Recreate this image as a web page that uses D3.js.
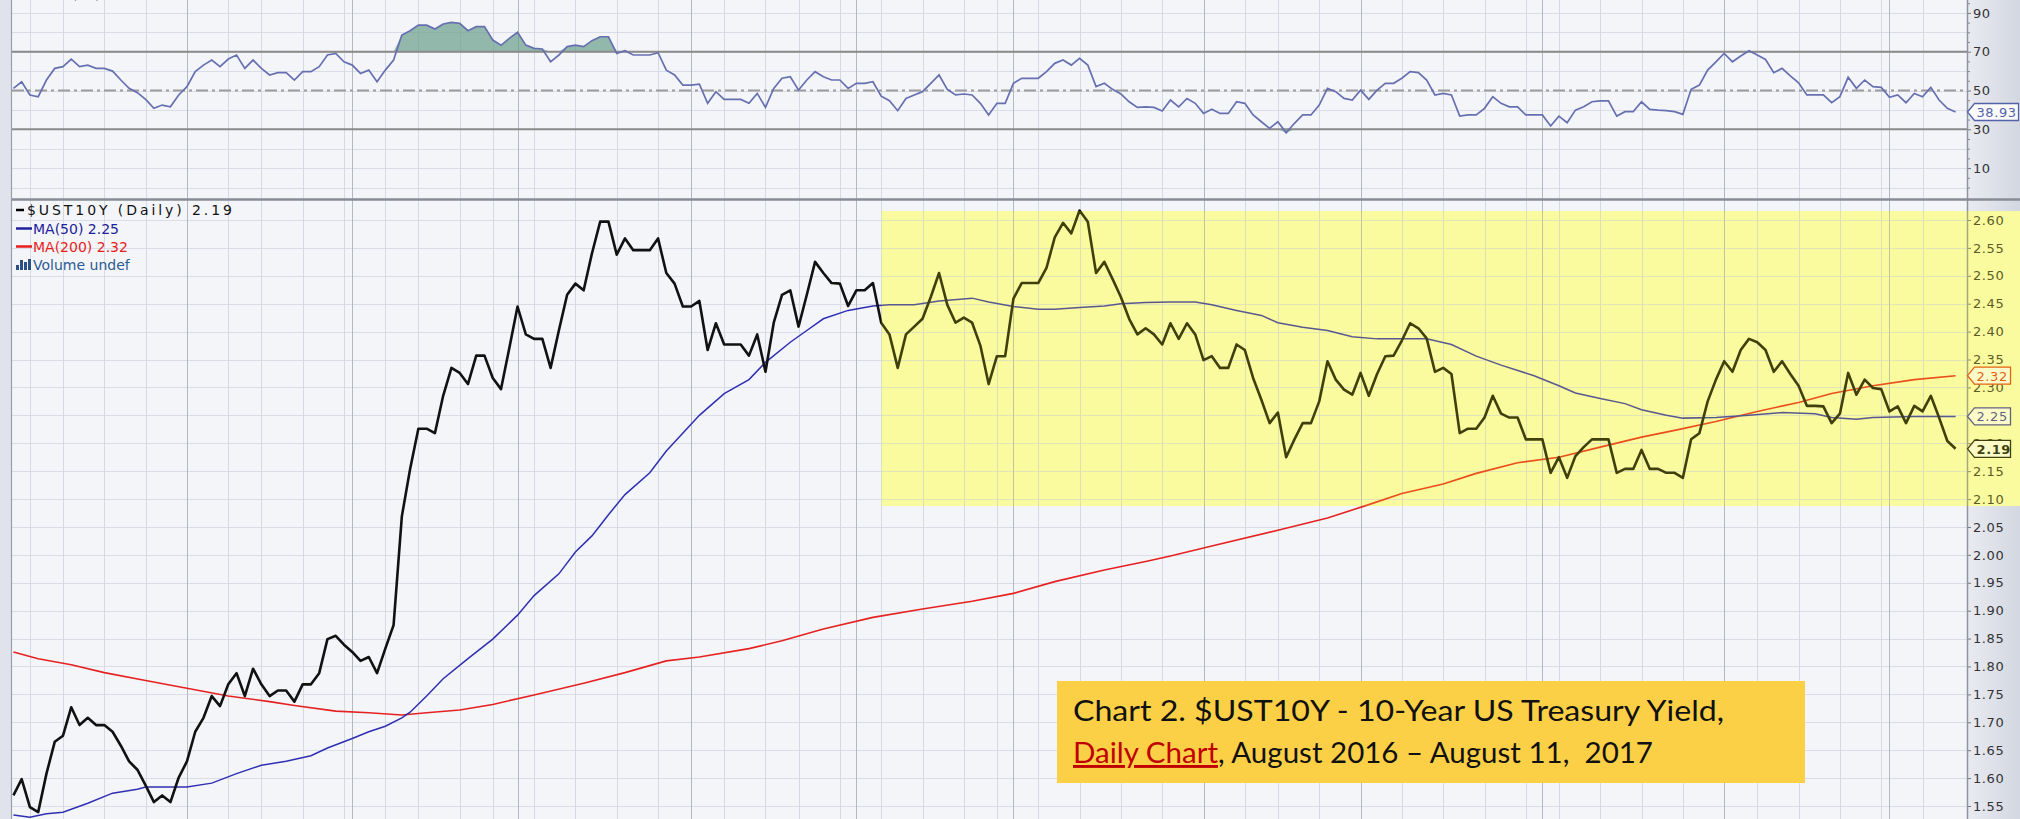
<!DOCTYPE html>
<html>
<head>
<meta charset="utf-8">
<script src="https://cdn.jsdelivr.net/npm/d3@7"></script>
<style>
  html, body { margin: 0; padding: 0; background: #f4f5f9; }
  svg { display: block; }
</style>
</head>
<body>
<svg id="chart" width="2020" height="819"></svg>
<script>
// daily closes, $UST10Y, trading days from Sep 1 2016 to Aug 11 2017 (index = trading day)
const ust10y = [
  1.569, 1.598, 1.548, 1.539, 1.608, 1.665, 1.676, 1.727, 1.695, 1.708,
  1.695, 1.695, 1.683, 1.658, 1.630, 1.615, 1.587, 1.557, 1.569, 1.557,
  1.601, 1.630, 1.683, 1.708, 1.747, 1.729, 1.768, 1.788, 1.747, 1.796,
  1.768, 1.747, 1.757, 1.757, 1.737, 1.768, 1.768, 1.788, 1.849, 1.855,
  1.839, 1.826, 1.810, 1.817, 1.788, 1.832, 1.874, 2.069, 2.154, 2.226,
  2.226, 2.218, 2.285, 2.335, 2.326, 2.306, 2.357, 2.357, 2.317, 2.297,
  2.370, 2.445, 2.395, 2.387, 2.387, 2.335, 2.402, 2.466, 2.486, 2.474,
  2.540, 2.597, 2.597, 2.538, 2.567, 2.546, 2.546, 2.546, 2.567, 2.505,
  2.486, 2.445, 2.445, 2.455,
  2.367, 2.415, 2.377, 2.377, 2.377, 2.357, 2.395, 2.328, 2.416, 2.466,
  2.474, 2.409, 2.466, 2.525, 2.505, 2.487, 2.486, 2.446, 2.474, 2.474,
  2.487, 2.416, 2.395, 2.335, 2.395, 2.409, 2.423, 2.462, 2.505, 2.448,
  2.416, 2.425, 2.416, 2.375, 2.306, 2.356, 2.356, 2.459, 2.487, 2.487,
  2.487, 2.514, 2.569, 2.595, 2.576, 2.617, 2.597, 2.505, 2.525, 2.494,
  2.462, 2.423, 2.395, 2.406, 2.395, 2.377, 2.415, 2.387, 2.415, 2.395,
  2.349, 2.356, 2.335, 2.335, 2.377, 2.367, 2.317, 2.278, 2.236, 2.255,
  2.175, 2.207, 2.236, 2.236, 2.275, 2.347, 2.314, 2.296, 2.287, 2.326,
  2.285, 2.324, 2.356, 2.357, 2.384,
  2.415, 2.406, 2.388, 2.328, 2.335, 2.324, 2.218, 2.226, 2.226, 2.246,
  2.285, 2.253, 2.246, 2.246, 2.207, 2.207, 2.207, 2.147, 2.175, 2.138,
  2.177, 2.193, 2.207, 2.207, 2.207, 2.147, 2.154, 2.154, 2.188, 2.154,
  2.154, 2.147, 2.147, 2.138, 2.207, 2.218, 2.275, 2.314, 2.347, 2.328,
  2.367, 2.387, 2.381, 2.367, 2.328, 2.347, 2.324, 2.303, 2.267, 2.267,
  2.266, 2.236, 2.253, 2.326, 2.287, 2.314, 2.299, 2.297, 2.257, 2.266,
  2.236, 2.267, 2.257, 2.285, 2.246, 2.204, 2.19
];

// RSI(14), same days
const rsi14 = [
  51.1, 54.5, 47.7, 46.8, 55.4, 61.4, 62.3, 66.2, 62.3, 63.1,
  61.4, 61.4, 60.0, 55.4, 51.1, 48.9, 45.4, 40.8, 42.5, 41.6,
  47.7, 52.0, 59.7, 63.1, 65.7, 62.3, 66.2, 68.3, 61.4, 65.7,
  61.4, 58.0, 59.2, 59.2, 55.4, 59.7, 59.7, 62.3, 68.3, 69.1,
  64.8, 63.1, 58.8, 60.5, 54.5, 60.5, 65.7, 78.6, 80.8, 83.7,
  83.7, 81.7, 84.3, 85.1, 84.6, 80.8, 82.9, 82.9, 76.0, 73.3,
  76.9, 80.0, 73.4, 71.7, 71.4, 64.8, 68.3, 72.6, 73.4, 72.6,
  75.7, 77.7, 77.7, 69.1, 70.5, 68.3, 68.3, 68.3, 69.5, 60.5,
  58.0, 52.8, 52.8, 53.3,
  43.4, 49.4, 45.4, 45.4, 45.4, 43.4, 48.5, 41.3, 51.1, 56.3,
  57.1, 50.2, 55.4, 59.7, 57.1, 55.4, 55.4, 51.1, 53.7, 53.7,
  54.5, 47.1, 44.7, 39.6, 45.9, 47.7, 49.4, 53.7, 58.0, 50.6,
  47.7, 48.2, 47.7, 43.4, 37.4, 43.4, 43.4, 53.7, 56.3, 56.3,
  56.3, 59.7, 64.0, 65.7, 63.1, 66.6, 63.1, 52.0, 53.7, 50.6,
  48.2, 44.2, 41.3, 41.6, 41.3, 39.4, 45.1, 41.6, 45.9, 43.4,
  38.2, 40.3, 38.2, 38.2, 44.2, 43.4, 37.4, 33.9, 30.5, 33.9,
  28.2, 33.1, 37.4, 37.4, 42.5, 51.1, 49.4, 45.9, 45.1, 50.2,
  45.4, 50.2, 53.7, 53.7, 56.3,
  59.7, 59.2, 55.4, 47.7, 48.5, 47.7, 36.8, 37.4, 37.4, 40.8,
  46.8, 43.4, 41.6, 41.6, 37.4, 37.4, 37.4, 31.7, 36.8, 33.4,
  39.9, 41.6, 44.2, 44.7, 44.7, 36.8, 39.1, 39.1, 44.2, 40.3,
  39.9, 39.6, 39.1, 37.7, 50.6, 52.8, 60.5, 64.8, 69.1, 64.8,
  67.8, 70.5, 68.3, 66.0, 59.2, 61.4, 57.5, 54.0, 47.7, 47.7,
  47.7, 43.7, 46.8, 56.8, 51.1, 55.4, 52.0, 51.6, 46.5, 47.7,
  43.7, 48.5, 46.8, 51.6, 45.1, 40.8, 38.93
];

// moving averages, read at these trading days
const ma50Days = [0, 2, 4, 6, 9, 12, 15, 16, 21, 24, 27, 30, 33, 36, 38, 41, 43, 45, 47, 48,
  50, 52, 55, 58, 61, 63, 66, 68, 70, 72, 74, 77, 79, 83, 86, 89, 91, 94, 96, 98,
  101, 104, 106, 109, 112, 116, 118, 121, 124, 126, 129, 132, 134, 137, 140, 143, 145, 148, 151, 153,
  156, 159, 162, 165, 168, 171, 174, 177, 180, 184, 187, 189, 192, 195, 197, 200, 202, 206, 210, 214,
  218, 220, 223, 225, 230, 235];
const ma50 = [1.534, 1.530, 1.536, 1.539, 1.555, 1.573, 1.580, 1.584, 1.584, 1.591, 1.608, 1.623, 1.630, 1.640, 1.654, 1.671, 1.683, 1.693, 1.708, 1.718,
  1.747, 1.778, 1.814, 1.849, 1.892, 1.927, 1.966, 2.005, 2.034, 2.072, 2.108, 2.147, 2.186, 2.250, 2.289, 2.314, 2.345, 2.381, 2.402, 2.423,
  2.438, 2.446, 2.448, 2.448, 2.455, 2.460, 2.453, 2.445, 2.440, 2.440, 2.443, 2.446, 2.450, 2.452, 2.453, 2.453, 2.448, 2.438, 2.429, 2.416,
  2.408, 2.402, 2.391, 2.387, 2.387, 2.387, 2.377, 2.356, 2.340, 2.321, 2.303, 2.290, 2.280, 2.271, 2.260, 2.250, 2.245, 2.246, 2.250, 2.255,
  2.253, 2.246, 2.243, 2.246, 2.248, 2.248];

const ma200Days = [0, 3, 7, 11, 16, 21, 26, 31, 34, 39, 43, 47, 50, 54, 58, 63, 69, 74, 79, 83,
  89, 93, 98, 104, 110, 116, 121, 126, 132, 137, 140, 145, 153, 159, 164, 168, 173, 177, 182, 187,
  192, 197, 201, 206, 211, 216, 220, 225, 230, 235];
const ma200 = [1.826, 1.814, 1.803, 1.789, 1.775, 1.761, 1.747, 1.737, 1.730, 1.720, 1.717, 1.713, 1.717, 1.722, 1.732, 1.749, 1.770, 1.789, 1.810, 1.817,
  1.832, 1.846, 1.867, 1.888, 1.903, 1.917, 1.931, 1.952, 1.973, 1.988, 1.998, 2.016, 2.044, 2.066, 2.090, 2.110, 2.127, 2.146, 2.165, 2.175,
  2.193, 2.211, 2.223, 2.239, 2.257, 2.273, 2.289, 2.303, 2.314, 2.321];

// grid: first trading day of each week / month
const weekLines = [2, 6, 11, 16, 26, 30, 35, 40, 45, 49, 54, 58, 63, 68, 73, 78, 86, 91, 95, 100,
  105, 110, 115, 119, 124, 129, 134, 139, 149, 153, 158, 168, 173, 178, 183, 187, 192, 197, 202,
  211, 216, 221, 226, 231];
const monthLines = [21, 41, 61, 82, 102, 121, 144, 163, 185, 207, 227];

const priceTicks = [1.55, 1.60, 1.65, 1.70, 1.75, 1.80, 1.85, 1.90, 1.95, 2.00, 2.05,
  2.10, 2.15, 2.20, 2.25, 2.30, 2.35, 2.40, 2.45, 2.50, 2.55, 2.60];
const rsiTicks = [10, 30, 50, 70, 90];
const rsiMinor = [0, 5, 15, 20, 25, 35, 40, 45, 55, 60, 65, 75, 80, 85, 95];
const rsiGrid = [0, 10, 20, 30, 40, 50, 60, 70, 80, 90];

// highlighted range (yellow) : from trading day 105, 2.0875 to 2.616
const zoneStart = 105, zoneLo = 2.0875, zoneHi = 2.616;

const svg = d3.select("#chart");
const W = 2020, H = 819;
const axisX = 1967;   // right price axis
const leftX = 12;

const x = d3.scaleLinear().domain([0, ust10y.length - 1]).range([13.4, 1955.6]);
const y = d3.scaleLinear().domain([1.55, 2.60]).range([806, 220]);
const yR = d3.scaleLinear().domain([30, 70]).range([129.3, 51.7]);

const defs = svg.append("defs");
const grad = defs.append("linearGradient").attr("id", "axisbg").attr("x1", 0).attr("x2", 1);
grad.append("stop").attr("offset", 0).attr("stop-color", "#e9ebf1");
grad.append("stop").attr("offset", 1).attr("stop-color", "#d3d7e1");

// fond
svg.append("rect").attr("width", W).attr("height", H).attr("fill", "#f4f5f9");
svg.append("rect").attr("x", axisX).attr("width", W - axisX).attr("height", H).attr("fill", "url(#axisbg)");

// zone jaune (fond, sous la grille)
const zone = {
  x: x(zoneStart), y: y(zoneHi),
  w: W - x(zoneStart), h: y(zoneLo) - y(zoneHi)
};
svg.append("rect")
  .attr("x", zone.x).attr("y", zone.y).attr("width", zone.w).attr("height", zone.h)
  .attr("fill", "#f9f9c6");

// grille
const grid = svg.append("g");
grid.selectAll(".hp").data(priceTicks).enter().append("line")
  .attr("x1", leftX).attr("x2", axisX)
  .attr("y1", d => Math.round(y(d)) + 0.5).attr("y2", d => Math.round(y(d)) + 0.5)
  .attr("stroke", "#dadde6");
grid.selectAll(".hr").data(rsiGrid).enter().append("line")
  .attr("x1", leftX).attr("x2", axisX)
  .attr("y1", d => Math.round(yR(d)) + 0.5).attr("y2", d => Math.round(yR(d)) + 0.5)
  .attr("stroke", "#dadde6");
grid.selectAll(".vw").data(weekLines).enter().append("line")
  .attr("x1", d => Math.round(x(d)) + 0.5).attr("x2", d => Math.round(x(d)) + 0.5)
  .attr("y1", 0).attr("y2", H)
  .attr("stroke", "#d6d9e1");
grid.selectAll(".vm").data(monthLines).enter().append("line")
  .attr("x1", d => Math.round(x(d)) + 0.5).attr("x2", d => Math.round(x(d)) + 0.5)
  .attr("y1", 0).attr("y2", H)
  .attr("stroke", "#b4b8c2");

// RSI panel
const rsiG = svg.append("g");
rsiG.append("path").datum(rsi14)
  .attr("fill", "#6c9f8c").attr("opacity", 0.72)
  .attr("d", d3.area().x((d, i) => x(i)).y0(yR(70)).y1(d => yR(Math.max(d, 70))));
rsiG.append("path").datum(rsi14)
  .attr("fill", "#6c9f8c").attr("opacity", 0.72)
  .attr("d", d3.area().x((d, i) => x(i)).y0(yR(30)).y1(d => yR(Math.min(d, 30))));
[70, 30].forEach(v => {
  rsiG.append("line").attr("x1", leftX).attr("x2", axisX)
    .attr("y1", yR(v)).attr("y2", yR(v))
    .attr("stroke", "#8a8a8a").attr("stroke-width", 2);
});
rsiG.append("line").attr("x1", leftX).attr("x2", axisX)
  .attr("y1", yR(50)).attr("y2", yR(50))
  .attr("stroke", "#9c9c9c").attr("stroke-width", 2)
  .attr("stroke-dasharray", "12,4,3,4");
rsiG.append("path").datum(rsi14)
  .attr("fill", "none").attr("stroke", "#6670b0").attr("stroke-width", 1.7)
  .attr("d", d3.line().x((d, i) => x(i)).y(d => yR(d)));

// prix + moyennes mobiles
const mainG = svg.append("g");
mainG.append("path").datum(ma200Days)
  .attr("fill", "none").attr("stroke", "#e52222").attr("stroke-width", 1.6)
  .attr("d", d3.line().x(d => x(d)).y((d, i) => y(ma200[i])));
mainG.append("path").datum(ma50Days)
  .attr("fill", "none").attr("stroke", "#2f2fb3").attr("stroke-width", 1.5)
  .attr("d", d3.line().x(d => x(d)).y((d, i) => y(ma50[i])));
mainG.append("path").datum(ust10y)
  .attr("fill", "none").attr("stroke", "#111").attr("stroke-width", 2.6)
  .attr("stroke-linejoin", "round")
  .attr("d", d3.line().x((d, i) => x(i)).y(d => y(d)));

// axes à droite
const axP = svg.append("g").attr("transform", `translate(${axisX},0)`)
  .call(d3.axisRight(y).tickValues(priceTicks).tickSize(4).tickPadding(2).tickFormat(d3.format(".2f")));
const axR = svg.append("g").attr("transform", `translate(${axisX},0)`)
  .call(d3.axisRight(yR).tickValues(rsiTicks).tickSize(4).tickPadding(2).tickFormat(d3.format("d")));
svg.append("g").attr("transform", `translate(${axisX},0)`)
  .call(d3.axisRight(yR).tickValues(rsiMinor).tickSize(3).tickFormat(""))
  .selectAll(".tick line").attr("stroke", "#888");
svg.selectAll(".domain").remove();
[axP, axR].forEach(a => {
  a.selectAll(".tick line").attr("stroke", "#777");
  a.selectAll(".tick text")
    .attr("font-family", "DejaVu Sans, Verdana, sans-serif")
    .attr("font-size", 13).attr("letter-spacing", 0.6).attr("fill", "#333");
});
svg.append("line").attr("x1", axisX + 0.5).attr("x2", axisX + 0.5).attr("y1", 0).attr("y2", H)
  .attr("stroke", "#8f949e").attr("stroke-width", 1.5);

// étiquettes de dernière valeur
function valueTag(yPos, label, color, w, bold) {
  const g = svg.append("g");
  const t = axisX + 0.5, h = 8.5;
  g.append("path")
    .attr("d", `M${t},${yPos} L${t + 7},${yPos - h} L${t + 7 + w},${yPos - h} L${t + 7 + w},${yPos + h} L${t + 7},${yPos + h} Z`)
    .attr("fill", "#fbfbfd").attr("stroke", color).attr("stroke-width", 1.3);
  g.append("text").attr("x", t + 9).attr("y", yPos + 5)
    .attr("font-family", "DejaVu Sans, Verdana, sans-serif").attr("font-size", 13)
    .attr("letter-spacing", 0.6)
    .attr("font-weight", bold ? "bold" : "normal")
    .attr("fill", color).text(label);
}
valueTag(y(ma200[ma200.length - 1]), "2.32", "#e03a1a", 36, false);
valueTag(y(ma50[ma50.length - 1]), "2.25", "#3a3aa0", 36, false);
valueTag(y(ust10y[ust10y.length - 1]), "2.19", "#111", 36, true);
valueTag(yR(rsi14[rsi14.length - 1]), "38.93", "#5462a8", 44, false);

// séparateur + bord gauche
svg.append("line").attr("x1", 0).attr("x2", W).attr("y1", 199.5).attr("y2", 199.5)
  .attr("stroke", "#878c96").attr("stroke-width", 2.5);
svg.append("rect").attr("x", 0).attr("y", 0).attr("width", 11).attr("height", H).attr("fill", "#e0e3eb");
svg.append("line").attr("x1", 11.5).attr("x2", 11.5).attr("y1", 0).attr("y2", H)
  .attr("stroke", "#9aa0aa").attr("stroke-width", 1.2);

// voile jaune par-dessus les courbes
svg.append("rect")
  .attr("x", zone.x).attr("y", zone.y).attr("width", zone.w).attr("height", zone.h)
  .attr("fill", "#ffff00").attr("opacity", 0.2);

// légende
const font = "DejaVu Sans, Verdana, sans-serif";
svg.append("text").attr("x", 49).attr("y", -1).attr("font-family", font).attr("font-size", 14)
  .attr("fill", "#222").text("RSI(14) 38.93");
const leg = svg.append("g").attr("font-family", font).attr("font-size", 14);
leg.append("line").attr("x1", 16).attr("x2", 24).attr("y1", 210).attr("y2", 210).attr("stroke", "#000").attr("stroke-width", 2.5);
leg.append("text").attr("x", 27).attr("y", 215).attr("fill", "#111")
  .attr("textLength", 205).attr("lengthAdjust", "spacing").text("$UST10Y (Daily) 2.19");
leg.append("line").attr("x1", 16).attr("x2", 32).attr("y1", 228.5).attr("y2", 228.5).attr("stroke", "#22229a").attr("stroke-width", 2.5);
leg.append("text").attr("x", 33).attr("y", 233.5).attr("fill", "#22229a").text("MA(50) 2.25");
leg.append("line").attr("x1", 16).attr("x2", 32).attr("y1", 246.5).attr("y2", 246.5).attr("stroke", "#e81c1c").attr("stroke-width", 2.5);
leg.append("text").attr("x", 33).attr("y", 251.5).attr("fill", "#e81c1c").text("MA(200) 2.32");
[[16, 5], [20, 10], [24, 8], [28, 11]].forEach(b => {
  leg.append("rect").attr("x", b[0]).attr("y", 270 - b[1]).attr("width", 3).attr("height", b[1]).attr("fill", "#2c4f86");
});
leg.append("text").attr("x", 33).attr("y", 269.5).attr("fill", "#2d5a93").text("Volume undef");

// encadré titre
const note = svg.append("g");
note.append("rect").attr("x", 1057).attr("y", 681).attr("width", 748).attr("height", 102).attr("fill", "#fcd046");
note.append("text").attr("x", 1073).attr("y", 721)
  .attr("font-family", "Lato, 'Open Sans', sans-serif").attr("font-size", 29).attr("fill", "#111")
  .attr("textLength", 651).attr("lengthAdjust", "spacingAndGlyphs")
  .text("Chart 2. $UST10Y - 10-Year US Treasury Yield,");
const l2 = note.append("text").attr("x", 1073).attr("y", 763)
  .attr("font-family", "Lato, 'Open Sans', sans-serif").attr("font-size", 29).attr("fill", "#111")
  .attr("textLength", 580).attr("lengthAdjust", "spacingAndGlyphs")
  .style("white-space", "pre");
l2.append("tspan").attr("fill", "#c00000").style("text-decoration", "underline").text("Daily Chart");
l2.append("tspan").text(", August 2016 \u2013 August 11,  2017");
</script>
</body>
</html>
